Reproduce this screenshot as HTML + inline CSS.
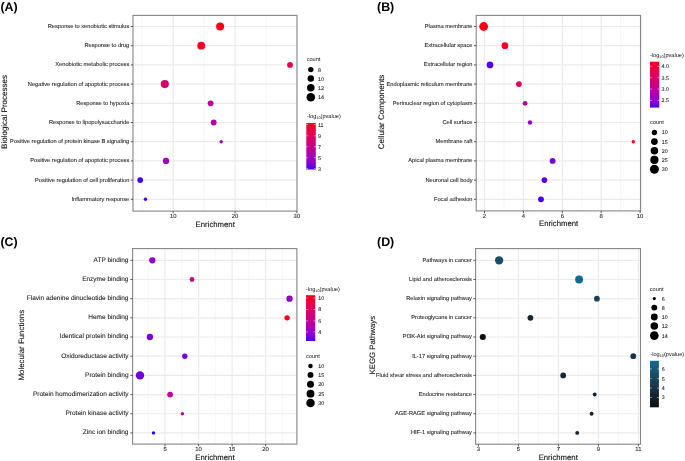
<!DOCTYPE html>
<html><head><meta charset="utf-8"><style>
html,body{margin:0;padding:0;background:#fff;}
body{width:685px;height:461px;overflow:hidden;}
svg{display:block;font-family:"Liberation Sans", sans-serif;will-change:transform;text-rendering:geometricPrecision;}
</style></head><body>
<svg width="685" height="461" viewBox="0 0 685 461">
<rect width="685" height="461" fill="#fff"/>
<line x1="142.27" y1="15.4" x2="142.27" y2="211.1" stroke="#f4f4f4" stroke-width="0.8"/>
<line x1="204.12" y1="15.4" x2="204.12" y2="211.1" stroke="#f4f4f4" stroke-width="0.8"/>
<line x1="265.97" y1="15.4" x2="265.97" y2="211.1" stroke="#f4f4f4" stroke-width="0.8"/>
<line x1="173.20" y1="15.4" x2="173.20" y2="211.1" stroke="#ebebeb" stroke-width="1.2"/>
<line x1="235.05" y1="15.4" x2="235.05" y2="211.1" stroke="#ebebeb" stroke-width="1.2"/>
<line x1="296.90" y1="15.4" x2="296.90" y2="211.1" stroke="#f4f4f4" stroke-width="0.8"/>
<line x1="133.0" y1="26.50" x2="297.0" y2="26.50" stroke="#ebebeb" stroke-width="1.2"/>
<line x1="133.0" y1="45.70" x2="297.0" y2="45.70" stroke="#ebebeb" stroke-width="1.2"/>
<line x1="133.0" y1="64.90" x2="297.0" y2="64.90" stroke="#ebebeb" stroke-width="1.2"/>
<line x1="133.0" y1="84.10" x2="297.0" y2="84.10" stroke="#ebebeb" stroke-width="1.2"/>
<line x1="133.0" y1="103.30" x2="297.0" y2="103.30" stroke="#ebebeb" stroke-width="1.2"/>
<line x1="133.0" y1="122.50" x2="297.0" y2="122.50" stroke="#ebebeb" stroke-width="1.2"/>
<line x1="133.0" y1="141.70" x2="297.0" y2="141.70" stroke="#ebebeb" stroke-width="1.2"/>
<line x1="133.0" y1="160.90" x2="297.0" y2="160.90" stroke="#ebebeb" stroke-width="1.2"/>
<line x1="133.0" y1="180.10" x2="297.0" y2="180.10" stroke="#ebebeb" stroke-width="1.2"/>
<line x1="133.0" y1="199.30" x2="297.0" y2="199.30" stroke="#ebebeb" stroke-width="1.2"/>
<circle cx="220.10" cy="26.50" r="4.00" fill="#fb001a"/>
<circle cx="201.20" cy="45.70" r="3.90" fill="#f80024"/>
<circle cx="290.00" cy="64.90" r="2.90" fill="#e80050"/>
<circle cx="164.80" cy="84.10" r="4.10" fill="#d9006d"/>
<circle cx="210.60" cy="103.30" r="2.90" fill="#ba009f"/>
<circle cx="213.70" cy="122.50" r="2.90" fill="#b600a4"/>
<circle cx="221.20" cy="141.70" r="1.70" fill="#a600b7"/>
<circle cx="166.00" cy="160.90" r="3.15" fill="#9f00be"/>
<circle cx="140.20" cy="180.10" r="2.90" fill="#4300f5"/>
<circle cx="145.50" cy="199.30" r="1.70" fill="#4300f5"/>
<rect x="133.0" y="15.4" width="164.00" height="195.70" fill="none" stroke="#858585" stroke-width="1.1"/>
<line x1="130.80" y1="26.50" x2="133.00" y2="26.50" stroke="#444" stroke-width="0.9"/>
<text x="129.30" y="27.90" font-size="5.7" text-anchor="end" fill="#222" font-weight="normal" stroke="#222" stroke-width="0.08">Response to xenobiotic stimulus</text>
<line x1="130.80" y1="45.70" x2="133.00" y2="45.70" stroke="#444" stroke-width="0.9"/>
<text x="129.30" y="47.10" font-size="5.7" text-anchor="end" fill="#222" font-weight="normal" stroke="#222" stroke-width="0.08">Response to drug</text>
<line x1="130.80" y1="64.90" x2="133.00" y2="64.90" stroke="#444" stroke-width="0.9"/>
<text x="129.30" y="66.30" font-size="5.7" text-anchor="end" fill="#222" font-weight="normal" stroke="#222" stroke-width="0.08">Xenobiotic metabolic process</text>
<line x1="130.80" y1="84.10" x2="133.00" y2="84.10" stroke="#444" stroke-width="0.9"/>
<text x="129.30" y="85.50" font-size="5.7" text-anchor="end" fill="#222" font-weight="normal" stroke="#222" stroke-width="0.08">Negative regulation of apoptotic process</text>
<line x1="130.80" y1="103.30" x2="133.00" y2="103.30" stroke="#444" stroke-width="0.9"/>
<text x="129.30" y="104.70" font-size="5.7" text-anchor="end" fill="#222" font-weight="normal" stroke="#222" stroke-width="0.08">Response to hypoxia</text>
<line x1="130.80" y1="122.50" x2="133.00" y2="122.50" stroke="#444" stroke-width="0.9"/>
<text x="129.30" y="123.90" font-size="5.7" text-anchor="end" fill="#222" font-weight="normal" stroke="#222" stroke-width="0.08">Response to lipopolysaccharide</text>
<line x1="130.80" y1="141.70" x2="133.00" y2="141.70" stroke="#444" stroke-width="0.9"/>
<text x="129.30" y="143.10" font-size="5.7" text-anchor="end" fill="#222" font-weight="normal" stroke="#222" stroke-width="0.08">Positive regulation of protein kinase B signaling</text>
<line x1="130.80" y1="160.90" x2="133.00" y2="160.90" stroke="#444" stroke-width="0.9"/>
<text x="129.30" y="162.30" font-size="5.7" text-anchor="end" fill="#222" font-weight="normal" stroke="#222" stroke-width="0.08">Positive regulation of apoptotic process</text>
<line x1="130.80" y1="180.10" x2="133.00" y2="180.10" stroke="#444" stroke-width="0.9"/>
<text x="129.30" y="181.50" font-size="5.7" text-anchor="end" fill="#222" font-weight="normal" stroke="#222" stroke-width="0.08">Positive regulation of cell proliferation</text>
<line x1="130.80" y1="199.30" x2="133.00" y2="199.30" stroke="#444" stroke-width="0.9"/>
<text x="129.30" y="200.70" font-size="5.7" text-anchor="end" fill="#222" font-weight="normal" stroke="#222" stroke-width="0.08">Inflammatory response</text>
<line x1="173.20" y1="211.1" x2="173.20" y2="213.30" stroke="#444" stroke-width="0.9"/>
<text x="173.20" y="218.30" font-size="5.9" text-anchor="middle" fill="#222" font-weight="normal" stroke="#222" stroke-width="0.08">10</text>
<line x1="235.05" y1="211.1" x2="235.05" y2="213.30" stroke="#444" stroke-width="0.9"/>
<text x="235.05" y="218.30" font-size="5.9" text-anchor="middle" fill="#222" font-weight="normal" stroke="#222" stroke-width="0.08">20</text>
<line x1="296.90" y1="211.1" x2="296.90" y2="213.30" stroke="#444" stroke-width="0.9"/>
<text x="296.90" y="218.30" font-size="5.9" text-anchor="middle" fill="#222" font-weight="normal" stroke="#222" stroke-width="0.08">30</text>
<text x="215.20" y="226.60" font-size="7.75" text-anchor="middle" fill="#111" font-weight="normal" stroke="#111" stroke-width="0.1">Enrichment</text>
<text transform="translate(7.10,112.00) rotate(-90)" font-size="8.0" text-anchor="middle" fill="#111" stroke="#111" stroke-width="0.1">Biological Processes</text>
<text x="0.40" y="10.80" font-size="12.4" text-anchor="start" fill="#000" font-weight="bold" >(A)</text>
<line x1="503.95" y1="15.4" x2="503.95" y2="210.9" stroke="#f4f4f4" stroke-width="0.8"/>
<line x1="542.85" y1="15.4" x2="542.85" y2="210.9" stroke="#f4f4f4" stroke-width="0.8"/>
<line x1="581.75" y1="15.4" x2="581.75" y2="210.9" stroke="#f4f4f4" stroke-width="0.8"/>
<line x1="620.65" y1="15.4" x2="620.65" y2="210.9" stroke="#f4f4f4" stroke-width="0.8"/>
<line x1="484.50" y1="15.4" x2="484.50" y2="210.9" stroke="#ebebeb" stroke-width="1.2"/>
<line x1="523.40" y1="15.4" x2="523.40" y2="210.9" stroke="#ebebeb" stroke-width="1.2"/>
<line x1="562.30" y1="15.4" x2="562.30" y2="210.9" stroke="#ebebeb" stroke-width="1.2"/>
<line x1="601.20" y1="15.4" x2="601.20" y2="210.9" stroke="#ebebeb" stroke-width="1.2"/>
<line x1="640.10" y1="15.4" x2="640.10" y2="210.9" stroke="#f4f4f4" stroke-width="0.8"/>
<line x1="476.2" y1="26.50" x2="640.6" y2="26.50" stroke="#ebebeb" stroke-width="1.2"/>
<line x1="476.2" y1="45.70" x2="640.6" y2="45.70" stroke="#ebebeb" stroke-width="1.2"/>
<line x1="476.2" y1="64.90" x2="640.6" y2="64.90" stroke="#ebebeb" stroke-width="1.2"/>
<line x1="476.2" y1="84.10" x2="640.6" y2="84.10" stroke="#ebebeb" stroke-width="1.2"/>
<line x1="476.2" y1="103.30" x2="640.6" y2="103.30" stroke="#ebebeb" stroke-width="1.2"/>
<line x1="476.2" y1="122.50" x2="640.6" y2="122.50" stroke="#ebebeb" stroke-width="1.2"/>
<line x1="476.2" y1="141.70" x2="640.6" y2="141.70" stroke="#ebebeb" stroke-width="1.2"/>
<line x1="476.2" y1="160.90" x2="640.6" y2="160.90" stroke="#ebebeb" stroke-width="1.2"/>
<line x1="476.2" y1="180.10" x2="640.6" y2="180.10" stroke="#ebebeb" stroke-width="1.2"/>
<line x1="476.2" y1="199.30" x2="640.6" y2="199.30" stroke="#ebebeb" stroke-width="1.2"/>
<circle cx="483.70" cy="26.50" r="4.40" fill="#fc0012"/>
<circle cx="504.90" cy="45.70" r="3.40" fill="#f6002a"/>
<circle cx="490.00" cy="64.90" r="3.35" fill="#5800ee"/>
<circle cx="518.90" cy="84.10" r="2.90" fill="#e3005b"/>
<circle cx="525.10" cy="103.30" r="2.40" fill="#b400a6"/>
<circle cx="530.00" cy="122.50" r="2.20" fill="#9a00c3"/>
<circle cx="633.30" cy="141.70" r="1.70" fill="#f90021"/>
<circle cx="552.60" cy="160.90" r="2.90" fill="#7500df"/>
<circle cx="544.40" cy="180.10" r="2.90" fill="#5800ee"/>
<circle cx="541.00" cy="199.30" r="2.90" fill="#4300f5"/>
<rect x="476.2" y="15.4" width="164.40" height="195.50" fill="none" stroke="#858585" stroke-width="1.1"/>
<line x1="474.00" y1="26.50" x2="476.20" y2="26.50" stroke="#444" stroke-width="0.9"/>
<text x="472.50" y="27.90" font-size="5.7" text-anchor="end" fill="#222" font-weight="normal" stroke="#222" stroke-width="0.08">Plasma membrane</text>
<line x1="474.00" y1="45.70" x2="476.20" y2="45.70" stroke="#444" stroke-width="0.9"/>
<text x="472.50" y="47.10" font-size="5.7" text-anchor="end" fill="#222" font-weight="normal" stroke="#222" stroke-width="0.08">Extracellular space</text>
<line x1="474.00" y1="64.90" x2="476.20" y2="64.90" stroke="#444" stroke-width="0.9"/>
<text x="472.50" y="66.30" font-size="5.7" text-anchor="end" fill="#222" font-weight="normal" stroke="#222" stroke-width="0.08">Extracellular region</text>
<line x1="474.00" y1="84.10" x2="476.20" y2="84.10" stroke="#444" stroke-width="0.9"/>
<text x="472.50" y="85.50" font-size="5.7" text-anchor="end" fill="#222" font-weight="normal" stroke="#222" stroke-width="0.08">Endoplasmic reticulum membrane</text>
<line x1="474.00" y1="103.30" x2="476.20" y2="103.30" stroke="#444" stroke-width="0.9"/>
<text x="472.50" y="104.70" font-size="5.7" text-anchor="end" fill="#222" font-weight="normal" stroke="#222" stroke-width="0.08">Perinuclear region of cytoplasm</text>
<line x1="474.00" y1="122.50" x2="476.20" y2="122.50" stroke="#444" stroke-width="0.9"/>
<text x="472.50" y="123.90" font-size="5.7" text-anchor="end" fill="#222" font-weight="normal" stroke="#222" stroke-width="0.08">Cell surface</text>
<line x1="474.00" y1="141.70" x2="476.20" y2="141.70" stroke="#444" stroke-width="0.9"/>
<text x="472.50" y="143.10" font-size="5.7" text-anchor="end" fill="#222" font-weight="normal" stroke="#222" stroke-width="0.08">Membrane raft</text>
<line x1="474.00" y1="160.90" x2="476.20" y2="160.90" stroke="#444" stroke-width="0.9"/>
<text x="472.50" y="162.30" font-size="5.7" text-anchor="end" fill="#222" font-weight="normal" stroke="#222" stroke-width="0.08">Apical plasma membrane</text>
<line x1="474.00" y1="180.10" x2="476.20" y2="180.10" stroke="#444" stroke-width="0.9"/>
<text x="472.50" y="181.50" font-size="5.7" text-anchor="end" fill="#222" font-weight="normal" stroke="#222" stroke-width="0.08">Neuronal cell body</text>
<line x1="474.00" y1="199.30" x2="476.20" y2="199.30" stroke="#444" stroke-width="0.9"/>
<text x="472.50" y="200.70" font-size="5.7" text-anchor="end" fill="#222" font-weight="normal" stroke="#222" stroke-width="0.08">Focal adhesion</text>
<line x1="484.50" y1="210.9" x2="484.50" y2="213.10" stroke="#444" stroke-width="0.9"/>
<text x="484.50" y="218.10" font-size="5.9" text-anchor="middle" fill="#222" font-weight="normal" stroke="#222" stroke-width="0.08">2</text>
<line x1="523.40" y1="210.9" x2="523.40" y2="213.10" stroke="#444" stroke-width="0.9"/>
<text x="523.40" y="218.10" font-size="5.9" text-anchor="middle" fill="#222" font-weight="normal" stroke="#222" stroke-width="0.08">4</text>
<line x1="562.30" y1="210.9" x2="562.30" y2="213.10" stroke="#444" stroke-width="0.9"/>
<text x="562.30" y="218.10" font-size="5.9" text-anchor="middle" fill="#222" font-weight="normal" stroke="#222" stroke-width="0.08">6</text>
<line x1="601.20" y1="210.9" x2="601.20" y2="213.10" stroke="#444" stroke-width="0.9"/>
<text x="601.20" y="218.10" font-size="5.9" text-anchor="middle" fill="#222" font-weight="normal" stroke="#222" stroke-width="0.08">8</text>
<line x1="640.10" y1="210.9" x2="640.10" y2="213.10" stroke="#444" stroke-width="0.9"/>
<text x="640.10" y="218.10" font-size="5.9" text-anchor="middle" fill="#222" font-weight="normal" stroke="#222" stroke-width="0.08">10</text>
<text x="558.60" y="226.40" font-size="7.75" text-anchor="middle" fill="#111" font-weight="normal" stroke="#111" stroke-width="0.1">Enrichment</text>
<text transform="translate(383.90,112.00) rotate(-90)" font-size="8.0" text-anchor="middle" fill="#111" stroke="#111" stroke-width="0.1">Cellular Components</text>
<text x="377.00" y="10.80" font-size="12.4" text-anchor="start" fill="#000" font-weight="bold" >(B)</text>
<line x1="148.27" y1="248.6" x2="148.27" y2="444.1" stroke="#f4f4f4" stroke-width="0.8"/>
<line x1="181.80" y1="248.6" x2="181.80" y2="444.1" stroke="#f4f4f4" stroke-width="0.8"/>
<line x1="215.34" y1="248.6" x2="215.34" y2="444.1" stroke="#f4f4f4" stroke-width="0.8"/>
<line x1="248.87" y1="248.6" x2="248.87" y2="444.1" stroke="#f4f4f4" stroke-width="0.8"/>
<line x1="282.41" y1="248.6" x2="282.41" y2="444.1" stroke="#f4f4f4" stroke-width="0.8"/>
<line x1="165.03" y1="248.6" x2="165.03" y2="444.1" stroke="#ebebeb" stroke-width="1.2"/>
<line x1="198.57" y1="248.6" x2="198.57" y2="444.1" stroke="#ebebeb" stroke-width="1.2"/>
<line x1="232.11" y1="248.6" x2="232.11" y2="444.1" stroke="#ebebeb" stroke-width="1.2"/>
<line x1="265.64" y1="248.6" x2="265.64" y2="444.1" stroke="#ebebeb" stroke-width="1.2"/>
<line x1="132.6" y1="260.30" x2="296.9" y2="260.30" stroke="#ebebeb" stroke-width="1.2"/>
<line x1="132.6" y1="279.48" x2="296.9" y2="279.48" stroke="#ebebeb" stroke-width="1.2"/>
<line x1="132.6" y1="298.66" x2="296.9" y2="298.66" stroke="#ebebeb" stroke-width="1.2"/>
<line x1="132.6" y1="317.84" x2="296.9" y2="317.84" stroke="#ebebeb" stroke-width="1.2"/>
<line x1="132.6" y1="337.02" x2="296.9" y2="337.02" stroke="#ebebeb" stroke-width="1.2"/>
<line x1="132.6" y1="356.20" x2="296.9" y2="356.20" stroke="#ebebeb" stroke-width="1.2"/>
<line x1="132.6" y1="375.38" x2="296.9" y2="375.38" stroke="#ebebeb" stroke-width="1.2"/>
<line x1="132.6" y1="394.56" x2="296.9" y2="394.56" stroke="#ebebeb" stroke-width="1.2"/>
<line x1="132.6" y1="413.74" x2="296.9" y2="413.74" stroke="#ebebeb" stroke-width="1.2"/>
<line x1="132.6" y1="432.92" x2="296.9" y2="432.92" stroke="#ebebeb" stroke-width="1.2"/>
<circle cx="152.30" cy="260.30" r="3.15" fill="#8d00ce"/>
<circle cx="192.00" cy="279.48" r="2.40" fill="#c5008f"/>
<circle cx="289.50" cy="298.66" r="3.15" fill="#9200ca"/>
<circle cx="287.10" cy="317.84" r="2.70" fill="#f90021"/>
<circle cx="149.90" cy="337.02" r="3.15" fill="#7c00da"/>
<circle cx="184.80" cy="356.20" r="2.70" fill="#7100e2"/>
<circle cx="140.00" cy="375.38" r="4.20" fill="#7100e2"/>
<circle cx="170.10" cy="394.56" r="2.90" fill="#c20094"/>
<circle cx="182.40" cy="413.74" r="1.70" fill="#b000ab"/>
<circle cx="153.50" cy="432.92" r="1.70" fill="#2f00fa"/>
<rect x="132.6" y="248.6" width="164.30" height="195.50" fill="none" stroke="#858585" stroke-width="1.1"/>
<line x1="130.40" y1="260.30" x2="132.60" y2="260.30" stroke="#444" stroke-width="0.9"/>
<text x="128.50" y="261.60" font-size="6.53" text-anchor="end" fill="#222" font-weight="normal" stroke="#222" stroke-width="0.08">ATP binding</text>
<line x1="130.40" y1="279.48" x2="132.60" y2="279.48" stroke="#444" stroke-width="0.9"/>
<text x="128.50" y="280.78" font-size="6.53" text-anchor="end" fill="#222" font-weight="normal" stroke="#222" stroke-width="0.08">Enzyme binding</text>
<line x1="130.40" y1="298.66" x2="132.60" y2="298.66" stroke="#444" stroke-width="0.9"/>
<text x="128.50" y="299.96" font-size="6.53" text-anchor="end" fill="#222" font-weight="normal" stroke="#222" stroke-width="0.08">Flavin adenine dinucleotide binding</text>
<line x1="130.40" y1="317.84" x2="132.60" y2="317.84" stroke="#444" stroke-width="0.9"/>
<text x="128.50" y="319.14" font-size="6.53" text-anchor="end" fill="#222" font-weight="normal" stroke="#222" stroke-width="0.08">Heme binding</text>
<line x1="130.40" y1="337.02" x2="132.60" y2="337.02" stroke="#444" stroke-width="0.9"/>
<text x="128.50" y="338.32" font-size="6.53" text-anchor="end" fill="#222" font-weight="normal" stroke="#222" stroke-width="0.08">Identical protein binding</text>
<line x1="130.40" y1="356.20" x2="132.60" y2="356.20" stroke="#444" stroke-width="0.9"/>
<text x="128.50" y="357.50" font-size="6.53" text-anchor="end" fill="#222" font-weight="normal" stroke="#222" stroke-width="0.08">Oxidoreductase activity</text>
<line x1="130.40" y1="375.38" x2="132.60" y2="375.38" stroke="#444" stroke-width="0.9"/>
<text x="128.50" y="376.68" font-size="6.53" text-anchor="end" fill="#222" font-weight="normal" stroke="#222" stroke-width="0.08">Protein binding</text>
<line x1="130.40" y1="394.56" x2="132.60" y2="394.56" stroke="#444" stroke-width="0.9"/>
<text x="128.50" y="395.86" font-size="6.53" text-anchor="end" fill="#222" font-weight="normal" stroke="#222" stroke-width="0.08">Protein homodimerization activity</text>
<line x1="130.40" y1="413.74" x2="132.60" y2="413.74" stroke="#444" stroke-width="0.9"/>
<text x="128.50" y="415.04" font-size="6.53" text-anchor="end" fill="#222" font-weight="normal" stroke="#222" stroke-width="0.08">Protein kinase activity</text>
<line x1="130.40" y1="432.92" x2="132.60" y2="432.92" stroke="#444" stroke-width="0.9"/>
<text x="128.50" y="434.22" font-size="6.53" text-anchor="end" fill="#222" font-weight="normal" stroke="#222" stroke-width="0.08">Zinc ion binding</text>
<line x1="165.03" y1="444.1" x2="165.03" y2="446.30" stroke="#444" stroke-width="0.9"/>
<text x="165.03" y="451.30" font-size="5.9" text-anchor="middle" fill="#222" font-weight="normal" stroke="#222" stroke-width="0.08">5</text>
<line x1="198.57" y1="444.1" x2="198.57" y2="446.30" stroke="#444" stroke-width="0.9"/>
<text x="198.57" y="451.30" font-size="5.9" text-anchor="middle" fill="#222" font-weight="normal" stroke="#222" stroke-width="0.08">10</text>
<line x1="232.11" y1="444.1" x2="232.11" y2="446.30" stroke="#444" stroke-width="0.9"/>
<text x="232.11" y="451.30" font-size="5.9" text-anchor="middle" fill="#222" font-weight="normal" stroke="#222" stroke-width="0.08">15</text>
<line x1="265.64" y1="444.1" x2="265.64" y2="446.30" stroke="#444" stroke-width="0.9"/>
<text x="265.64" y="451.30" font-size="5.9" text-anchor="middle" fill="#222" font-weight="normal" stroke="#222" stroke-width="0.08">20</text>
<text x="214.95" y="459.60" font-size="7.75" text-anchor="middle" fill="#111" font-weight="normal" stroke="#111" stroke-width="0.1">Enrichment</text>
<text transform="translate(23.80,345.20) rotate(-90)" font-size="7.9" text-anchor="middle" fill="#111" stroke="#111" stroke-width="0.1">Molecular Functions</text>
<text x="0.40" y="245.90" font-size="12.4" text-anchor="start" fill="#000" font-weight="bold" >(C)</text>
<line x1="498.40" y1="248.6" x2="498.40" y2="444.2" stroke="#f4f4f4" stroke-width="0.8"/>
<line x1="538.40" y1="248.6" x2="538.40" y2="444.2" stroke="#f4f4f4" stroke-width="0.8"/>
<line x1="578.40" y1="248.6" x2="578.40" y2="444.2" stroke="#f4f4f4" stroke-width="0.8"/>
<line x1="618.40" y1="248.6" x2="618.40" y2="444.2" stroke="#f4f4f4" stroke-width="0.8"/>
<line x1="478.40" y1="248.6" x2="478.40" y2="444.2" stroke="#f4f4f4" stroke-width="0.8"/>
<line x1="518.40" y1="248.6" x2="518.40" y2="444.2" stroke="#ebebeb" stroke-width="1.2"/>
<line x1="558.40" y1="248.6" x2="558.40" y2="444.2" stroke="#ebebeb" stroke-width="1.2"/>
<line x1="598.40" y1="248.6" x2="598.40" y2="444.2" stroke="#ebebeb" stroke-width="1.2"/>
<line x1="638.40" y1="248.6" x2="638.40" y2="444.2" stroke="#ebebeb" stroke-width="1.2"/>
<line x1="475.6" y1="260.30" x2="640.5" y2="260.30" stroke="#ebebeb" stroke-width="1.2"/>
<line x1="475.6" y1="279.48" x2="640.5" y2="279.48" stroke="#ebebeb" stroke-width="1.2"/>
<line x1="475.6" y1="298.66" x2="640.5" y2="298.66" stroke="#ebebeb" stroke-width="1.2"/>
<line x1="475.6" y1="317.84" x2="640.5" y2="317.84" stroke="#ebebeb" stroke-width="1.2"/>
<line x1="475.6" y1="337.02" x2="640.5" y2="337.02" stroke="#ebebeb" stroke-width="1.2"/>
<line x1="475.6" y1="356.20" x2="640.5" y2="356.20" stroke="#ebebeb" stroke-width="1.2"/>
<line x1="475.6" y1="375.38" x2="640.5" y2="375.38" stroke="#ebebeb" stroke-width="1.2"/>
<line x1="475.6" y1="394.56" x2="640.5" y2="394.56" stroke="#ebebeb" stroke-width="1.2"/>
<line x1="475.6" y1="413.74" x2="640.5" y2="413.74" stroke="#ebebeb" stroke-width="1.2"/>
<line x1="475.6" y1="432.92" x2="640.5" y2="432.92" stroke="#ebebeb" stroke-width="1.2"/>
<circle cx="499.10" cy="260.30" r="4.15" fill="#194e69"/>
<circle cx="579.10" cy="279.48" r="3.95" fill="#0e6c94"/>
<circle cx="596.90" cy="298.66" r="2.90" fill="#194055"/>
<circle cx="530.40" cy="317.84" r="2.90" fill="#15242f"/>
<circle cx="482.80" cy="337.02" r="3.05" fill="#0a0e12"/>
<circle cx="633.30" cy="356.20" r="2.90" fill="#183648"/>
<circle cx="563.20" cy="375.38" r="2.90" fill="#162935"/>
<circle cx="594.70" cy="394.56" r="1.95" fill="#15242f"/>
<circle cx="591.60" cy="413.74" r="1.95" fill="#14222b"/>
<circle cx="577.20" cy="432.92" r="1.95" fill="#14222b"/>
<rect x="475.6" y="248.6" width="164.90" height="195.60" fill="none" stroke="#858585" stroke-width="1.1"/>
<line x1="473.40" y1="260.30" x2="475.60" y2="260.30" stroke="#444" stroke-width="0.9"/>
<text x="471.90" y="261.70" font-size="5.7" text-anchor="end" fill="#222" font-weight="normal" stroke="#222" stroke-width="0.08">Pathways in cancer</text>
<line x1="473.40" y1="279.48" x2="475.60" y2="279.48" stroke="#444" stroke-width="0.9"/>
<text x="471.90" y="280.88" font-size="5.7" text-anchor="end" fill="#222" font-weight="normal" stroke="#222" stroke-width="0.08">Lipid and atherosclerosis</text>
<line x1="473.40" y1="298.66" x2="475.60" y2="298.66" stroke="#444" stroke-width="0.9"/>
<text x="471.90" y="300.06" font-size="5.7" text-anchor="end" fill="#222" font-weight="normal" stroke="#222" stroke-width="0.08">Relaxin signaling pathway</text>
<line x1="473.40" y1="317.84" x2="475.60" y2="317.84" stroke="#444" stroke-width="0.9"/>
<text x="471.90" y="319.24" font-size="5.7" text-anchor="end" fill="#222" font-weight="normal" stroke="#222" stroke-width="0.08">Proteoglycans in cancer</text>
<line x1="473.40" y1="337.02" x2="475.60" y2="337.02" stroke="#444" stroke-width="0.9"/>
<text x="471.90" y="338.42" font-size="5.7" text-anchor="end" fill="#222" font-weight="normal" stroke="#222" stroke-width="0.08">PI3K-Akt signaling pathway</text>
<line x1="473.40" y1="356.20" x2="475.60" y2="356.20" stroke="#444" stroke-width="0.9"/>
<text x="471.90" y="357.60" font-size="5.7" text-anchor="end" fill="#222" font-weight="normal" stroke="#222" stroke-width="0.08">IL-17 signaling pathway</text>
<line x1="473.40" y1="375.38" x2="475.60" y2="375.38" stroke="#444" stroke-width="0.9"/>
<text x="471.90" y="376.78" font-size="5.7" text-anchor="end" fill="#222" font-weight="normal" stroke="#222" stroke-width="0.08">Fluid shear stress and atherosclerosis</text>
<line x1="473.40" y1="394.56" x2="475.60" y2="394.56" stroke="#444" stroke-width="0.9"/>
<text x="471.90" y="395.96" font-size="5.7" text-anchor="end" fill="#222" font-weight="normal" stroke="#222" stroke-width="0.08">Endocrine resistance</text>
<line x1="473.40" y1="413.74" x2="475.60" y2="413.74" stroke="#444" stroke-width="0.9"/>
<text x="471.90" y="415.14" font-size="5.7" text-anchor="end" fill="#222" font-weight="normal" stroke="#222" stroke-width="0.08">AGE-RAGE signaling pathway</text>
<line x1="473.40" y1="432.92" x2="475.60" y2="432.92" stroke="#444" stroke-width="0.9"/>
<text x="471.90" y="434.32" font-size="5.7" text-anchor="end" fill="#222" font-weight="normal" stroke="#222" stroke-width="0.08">HIF-1 signaling pathway</text>
<line x1="478.40" y1="444.2" x2="478.40" y2="446.40" stroke="#444" stroke-width="0.9"/>
<text x="478.40" y="451.40" font-size="5.9" text-anchor="middle" fill="#222" font-weight="normal" stroke="#222" stroke-width="0.08">3</text>
<line x1="518.40" y1="444.2" x2="518.40" y2="446.40" stroke="#444" stroke-width="0.9"/>
<text x="518.40" y="451.40" font-size="5.9" text-anchor="middle" fill="#222" font-weight="normal" stroke="#222" stroke-width="0.08">5</text>
<line x1="558.40" y1="444.2" x2="558.40" y2="446.40" stroke="#444" stroke-width="0.9"/>
<text x="558.40" y="451.40" font-size="5.9" text-anchor="middle" fill="#222" font-weight="normal" stroke="#222" stroke-width="0.08">7</text>
<line x1="598.40" y1="444.2" x2="598.40" y2="446.40" stroke="#444" stroke-width="0.9"/>
<text x="598.40" y="451.40" font-size="5.9" text-anchor="middle" fill="#222" font-weight="normal" stroke="#222" stroke-width="0.08">9</text>
<line x1="638.40" y1="444.2" x2="638.40" y2="446.40" stroke="#444" stroke-width="0.9"/>
<text x="638.40" y="451.40" font-size="5.9" text-anchor="middle" fill="#222" font-weight="normal" stroke="#222" stroke-width="0.08">11</text>
<text x="558.25" y="459.70" font-size="7.75" text-anchor="middle" fill="#111" font-weight="normal" stroke="#111" stroke-width="0.1">Enrichment</text>
<text transform="translate(375.20,345.20) rotate(-90)" font-size="7.8" text-anchor="middle" fill="#111" stroke="#111" stroke-width="0.1">KEGG Pathways</text>
<text x="377.00" y="245.90" font-size="12.4" text-anchor="start" fill="#000" font-weight="bold" >(D)</text>
<text x="306.70" y="61.10" font-size="5.6" text-anchor="start" fill="#111" font-weight="normal" >count</text>
<circle cx="310.8" cy="69.6" r="2.70" fill="#000"/>
<text x="318.00" y="71.50" font-size="5.3" text-anchor="start" fill="#222" font-weight="normal" stroke="#222" stroke-width="0.08">8</text>
<circle cx="310.8" cy="78.6" r="3.25" fill="#000"/>
<text x="318.00" y="80.50" font-size="5.3" text-anchor="start" fill="#222" font-weight="normal" stroke="#222" stroke-width="0.08">10</text>
<circle cx="310.8" cy="87.8" r="3.80" fill="#000"/>
<text x="318.00" y="89.70" font-size="5.3" text-anchor="start" fill="#222" font-weight="normal" stroke="#222" stroke-width="0.08">12</text>
<circle cx="310.8" cy="97.3" r="4.25" fill="#000"/>
<text x="318.00" y="99.20" font-size="5.3" text-anchor="start" fill="#222" font-weight="normal" stroke="#222" stroke-width="0.08">14</text>
<text x="307" y="118.00" font-size="5.6" fill="#111">-log<tspan font-size="3.8" dy="1.2">10</tspan><tspan dy="-1.2">(pvalue)</tspan></text>
<defs><linearGradient id="gA" x1="0" y1="1" x2="0" y2="0">
<stop offset="0.00" stop-color="#4b00f3"/>
<stop offset="0.10" stop-color="#7900dd"/>
<stop offset="0.20" stop-color="#9500c7"/>
<stop offset="0.30" stop-color="#aa00b2"/>
<stop offset="0.40" stop-color="#bb009d"/>
<stop offset="0.50" stop-color="#ca0088"/>
<stop offset="0.60" stop-color="#d60074"/>
<stop offset="0.70" stop-color="#e00060"/>
<stop offset="0.80" stop-color="#ea004b"/>
<stop offset="0.90" stop-color="#f30035"/>
<stop offset="1.00" stop-color="#fb001a"/>
</linearGradient></defs>
<rect x="306.3" y="123" width="9.50" height="46.50" fill="url(#gA)"/>
<line x1="306.3" y1="124.5" x2="308.1" y2="124.5" stroke="#fff" stroke-width="0.5"/>
<line x1="314.0" y1="124.5" x2="315.8" y2="124.5" stroke="#fff" stroke-width="0.5"/>
<text x="318.00" y="126.90" font-size="5.3" text-anchor="start" fill="#222" font-weight="normal" stroke="#222" stroke-width="0.08">11</text>
<line x1="306.3" y1="135.8" x2="308.1" y2="135.8" stroke="#fff" stroke-width="0.5"/>
<line x1="314.0" y1="135.8" x2="315.8" y2="135.8" stroke="#fff" stroke-width="0.5"/>
<text x="318.00" y="138.20" font-size="5.3" text-anchor="start" fill="#222" font-weight="normal" stroke="#222" stroke-width="0.08">9</text>
<line x1="306.3" y1="146.7" x2="308.1" y2="146.7" stroke="#fff" stroke-width="0.5"/>
<line x1="314.0" y1="146.7" x2="315.8" y2="146.7" stroke="#fff" stroke-width="0.5"/>
<text x="318.00" y="149.10" font-size="5.3" text-anchor="start" fill="#222" font-weight="normal" stroke="#222" stroke-width="0.08">7</text>
<line x1="306.3" y1="157.7" x2="308.1" y2="157.7" stroke="#fff" stroke-width="0.5"/>
<line x1="314.0" y1="157.7" x2="315.8" y2="157.7" stroke="#fff" stroke-width="0.5"/>
<text x="318.00" y="160.10" font-size="5.3" text-anchor="start" fill="#222" font-weight="normal" stroke="#222" stroke-width="0.08">5</text>
<line x1="306.3" y1="168.5" x2="308.1" y2="168.5" stroke="#fff" stroke-width="0.5"/>
<line x1="314.0" y1="168.5" x2="315.8" y2="168.5" stroke="#fff" stroke-width="0.5"/>
<text x="318.00" y="170.90" font-size="5.3" text-anchor="start" fill="#222" font-weight="normal" stroke="#222" stroke-width="0.08">3</text>
<text x="650" y="57.20" font-size="5.6" fill="#111">-log<tspan font-size="3.8" dy="1.2">10</tspan><tspan dy="-1.2">(pvalue)</tspan></text>
<defs><linearGradient id="gB" x1="0" y1="1" x2="0" y2="0">
<stop offset="0.00" stop-color="#4b00f3"/>
<stop offset="0.10" stop-color="#7900dd"/>
<stop offset="0.20" stop-color="#9500c7"/>
<stop offset="0.30" stop-color="#aa00b2"/>
<stop offset="0.40" stop-color="#bb009d"/>
<stop offset="0.50" stop-color="#ca0088"/>
<stop offset="0.60" stop-color="#d60074"/>
<stop offset="0.70" stop-color="#e00060"/>
<stop offset="0.80" stop-color="#ea004b"/>
<stop offset="0.90" stop-color="#f30035"/>
<stop offset="1.00" stop-color="#fb001a"/>
</linearGradient></defs>
<rect x="650" y="61.7" width="9.30" height="45.90" fill="url(#gB)"/>
<line x1="650" y1="66.3" x2="651.8" y2="66.3" stroke="#fff" stroke-width="0.5"/>
<line x1="657.5" y1="66.3" x2="659.3" y2="66.3" stroke="#fff" stroke-width="0.5"/>
<text x="661.50" y="68.20" font-size="5.3" text-anchor="start" fill="#222" font-weight="normal" stroke="#222" stroke-width="0.08">4.0</text>
<line x1="650" y1="77.7" x2="651.8" y2="77.7" stroke="#fff" stroke-width="0.5"/>
<line x1="657.5" y1="77.7" x2="659.3" y2="77.7" stroke="#fff" stroke-width="0.5"/>
<text x="661.50" y="79.60" font-size="5.3" text-anchor="start" fill="#222" font-weight="normal" stroke="#222" stroke-width="0.08">3.5</text>
<line x1="650" y1="89.1" x2="651.8" y2="89.1" stroke="#fff" stroke-width="0.5"/>
<line x1="657.5" y1="89.1" x2="659.3" y2="89.1" stroke="#fff" stroke-width="0.5"/>
<text x="661.50" y="91.00" font-size="5.3" text-anchor="start" fill="#222" font-weight="normal" stroke="#222" stroke-width="0.08">3.0</text>
<line x1="650" y1="100.5" x2="651.8" y2="100.5" stroke="#fff" stroke-width="0.5"/>
<line x1="657.5" y1="100.5" x2="659.3" y2="100.5" stroke="#fff" stroke-width="0.5"/>
<text x="661.50" y="102.40" font-size="5.3" text-anchor="start" fill="#222" font-weight="normal" stroke="#222" stroke-width="0.08">2.5</text>
<text x="650.00" y="123.80" font-size="5.6" text-anchor="start" fill="#111" font-weight="normal" >count</text>
<circle cx="654.4" cy="132.5" r="2.65" fill="#000"/>
<text x="661.80" y="134.40" font-size="5.3" text-anchor="start" fill="#222" font-weight="normal" stroke="#222" stroke-width="0.08">10</text>
<circle cx="654.4" cy="141.6" r="3.40" fill="#000"/>
<text x="661.80" y="143.50" font-size="5.3" text-anchor="start" fill="#222" font-weight="normal" stroke="#222" stroke-width="0.08">15</text>
<circle cx="654.4" cy="150.7" r="3.75" fill="#000"/>
<text x="661.80" y="152.60" font-size="5.3" text-anchor="start" fill="#222" font-weight="normal" stroke="#222" stroke-width="0.08">20</text>
<circle cx="654.4" cy="159.9" r="4.10" fill="#000"/>
<text x="661.80" y="161.80" font-size="5.3" text-anchor="start" fill="#222" font-weight="normal" stroke="#222" stroke-width="0.08">25</text>
<circle cx="654.4" cy="169.3" r="4.50" fill="#000"/>
<text x="661.80" y="171.20" font-size="5.3" text-anchor="start" fill="#222" font-weight="normal" stroke="#222" stroke-width="0.08">30</text>
<text x="306" y="290.50" font-size="5.6" fill="#111">-log<tspan font-size="3.8" dy="1.2">10</tspan><tspan dy="-1.2">(pvalue)</tspan></text>
<defs><linearGradient id="gC" x1="0" y1="1" x2="0" y2="0">
<stop offset="0.00" stop-color="#4b00f3"/>
<stop offset="0.10" stop-color="#7900dd"/>
<stop offset="0.20" stop-color="#9500c7"/>
<stop offset="0.30" stop-color="#aa00b2"/>
<stop offset="0.40" stop-color="#bb009d"/>
<stop offset="0.50" stop-color="#ca0088"/>
<stop offset="0.60" stop-color="#d60074"/>
<stop offset="0.70" stop-color="#e00060"/>
<stop offset="0.80" stop-color="#ea004b"/>
<stop offset="0.90" stop-color="#f30035"/>
<stop offset="1.00" stop-color="#fb001a"/>
</linearGradient></defs>
<rect x="306" y="295.2" width="9.20" height="45.80" fill="url(#gC)"/>
<line x1="306" y1="298" x2="307.8" y2="298" stroke="#fff" stroke-width="0.5"/>
<line x1="313.4" y1="298" x2="315.2" y2="298" stroke="#fff" stroke-width="0.5"/>
<text x="318.20" y="299.90" font-size="5.3" text-anchor="start" fill="#222" font-weight="normal" stroke="#222" stroke-width="0.08">10</text>
<line x1="306" y1="309.5" x2="307.8" y2="309.5" stroke="#fff" stroke-width="0.5"/>
<line x1="313.4" y1="309.5" x2="315.2" y2="309.5" stroke="#fff" stroke-width="0.5"/>
<text x="318.20" y="311.40" font-size="5.3" text-anchor="start" fill="#222" font-weight="normal" stroke="#222" stroke-width="0.08">8</text>
<line x1="306" y1="320.8" x2="307.8" y2="320.8" stroke="#fff" stroke-width="0.5"/>
<line x1="313.4" y1="320.8" x2="315.2" y2="320.8" stroke="#fff" stroke-width="0.5"/>
<text x="318.20" y="322.70" font-size="5.3" text-anchor="start" fill="#222" font-weight="normal" stroke="#222" stroke-width="0.08">6</text>
<line x1="306" y1="331.9" x2="307.8" y2="331.9" stroke="#fff" stroke-width="0.5"/>
<line x1="313.4" y1="331.9" x2="315.2" y2="331.9" stroke="#fff" stroke-width="0.5"/>
<text x="318.20" y="333.80" font-size="5.3" text-anchor="start" fill="#222" font-weight="normal" stroke="#222" stroke-width="0.08">4</text>
<text x="306.00" y="357.70" font-size="5.6" text-anchor="start" fill="#111" font-weight="normal" >count</text>
<circle cx="310.5" cy="365.9" r="2.25" fill="#000"/>
<text x="318.20" y="367.80" font-size="5.3" text-anchor="start" fill="#222" font-weight="normal" stroke="#222" stroke-width="0.08">10</text>
<circle cx="310.5" cy="374.9" r="2.95" fill="#000"/>
<text x="318.20" y="376.80" font-size="5.3" text-anchor="start" fill="#222" font-weight="normal" stroke="#222" stroke-width="0.08">15</text>
<circle cx="310.5" cy="384.2" r="3.50" fill="#000"/>
<text x="318.20" y="386.10" font-size="5.3" text-anchor="start" fill="#222" font-weight="normal" stroke="#222" stroke-width="0.08">20</text>
<circle cx="310.5" cy="393.7" r="3.90" fill="#000"/>
<text x="318.20" y="395.60" font-size="5.3" text-anchor="start" fill="#222" font-weight="normal" stroke="#222" stroke-width="0.08">25</text>
<circle cx="310.5" cy="402.9" r="4.25" fill="#000"/>
<text x="318.20" y="404.80" font-size="5.3" text-anchor="start" fill="#222" font-weight="normal" stroke="#222" stroke-width="0.08">30</text>
<text x="649.80" y="290.50" font-size="5.6" text-anchor="start" fill="#111" font-weight="normal" >count</text>
<circle cx="654.3" cy="298.6" r="1.60" fill="#000"/>
<text x="661.70" y="300.50" font-size="5.3" text-anchor="start" fill="#222" font-weight="normal" stroke="#222" stroke-width="0.08">6</text>
<circle cx="654.3" cy="307.6" r="2.95" fill="#000"/>
<text x="661.70" y="309.50" font-size="5.3" text-anchor="start" fill="#222" font-weight="normal" stroke="#222" stroke-width="0.08">8</text>
<circle cx="654.3" cy="317.0" r="3.45" fill="#000"/>
<text x="661.70" y="318.90" font-size="5.3" text-anchor="start" fill="#222" font-weight="normal" stroke="#222" stroke-width="0.08">10</text>
<circle cx="654.3" cy="326.1" r="3.75" fill="#000"/>
<text x="661.70" y="328.00" font-size="5.3" text-anchor="start" fill="#222" font-weight="normal" stroke="#222" stroke-width="0.08">12</text>
<circle cx="654.3" cy="335.6" r="4.35" fill="#000"/>
<text x="661.70" y="337.50" font-size="5.3" text-anchor="start" fill="#222" font-weight="normal" stroke="#222" stroke-width="0.08">14</text>
<text x="650.4" y="355.90" font-size="5.6" fill="#111">-log<tspan font-size="3.8" dy="1.2">10</tspan><tspan dy="-1.2">(pvalue)</tspan></text>
<defs><linearGradient id="gD" x1="0" y1="1" x2="0" y2="0">
<stop offset="0.00" stop-color="#0a0e12"/>
<stop offset="0.10" stop-color="#11181e"/>
<stop offset="0.20" stop-color="#142029"/>
<stop offset="0.30" stop-color="#162935"/>
<stop offset="0.40" stop-color="#183242"/>
<stop offset="0.50" stop-color="#193b4f"/>
<stop offset="0.60" stop-color="#19445c"/>
<stop offset="0.70" stop-color="#194e69"/>
<stop offset="0.80" stop-color="#175877"/>
<stop offset="0.90" stop-color="#146286"/>
<stop offset="1.00" stop-color="#0e6c94"/>
</linearGradient></defs>
<rect x="650" y="360.8" width="8.90" height="46.50" fill="url(#gD)"/>
<line x1="650" y1="368.9" x2="651.8" y2="368.9" stroke="#fff" stroke-width="0.5"/>
<line x1="657.1" y1="368.9" x2="658.9" y2="368.9" stroke="#fff" stroke-width="0.5"/>
<text x="661.70" y="370.80" font-size="5.3" text-anchor="start" fill="#222" font-weight="normal" stroke="#222" stroke-width="0.08">6</text>
<line x1="650" y1="378.6" x2="651.8" y2="378.6" stroke="#fff" stroke-width="0.5"/>
<line x1="657.1" y1="378.6" x2="658.9" y2="378.6" stroke="#fff" stroke-width="0.5"/>
<text x="661.70" y="380.50" font-size="5.3" text-anchor="start" fill="#222" font-weight="normal" stroke="#222" stroke-width="0.08">5</text>
<line x1="650" y1="388.1" x2="651.8" y2="388.1" stroke="#fff" stroke-width="0.5"/>
<line x1="657.1" y1="388.1" x2="658.9" y2="388.1" stroke="#fff" stroke-width="0.5"/>
<text x="661.70" y="390.00" font-size="5.3" text-anchor="start" fill="#222" font-weight="normal" stroke="#222" stroke-width="0.08">4</text>
<line x1="650" y1="397.5" x2="651.8" y2="397.5" stroke="#fff" stroke-width="0.5"/>
<line x1="657.1" y1="397.5" x2="658.9" y2="397.5" stroke="#fff" stroke-width="0.5"/>
<text x="661.70" y="399.40" font-size="5.3" text-anchor="start" fill="#222" font-weight="normal" stroke="#222" stroke-width="0.08">3</text>
</svg>
</body></html>
